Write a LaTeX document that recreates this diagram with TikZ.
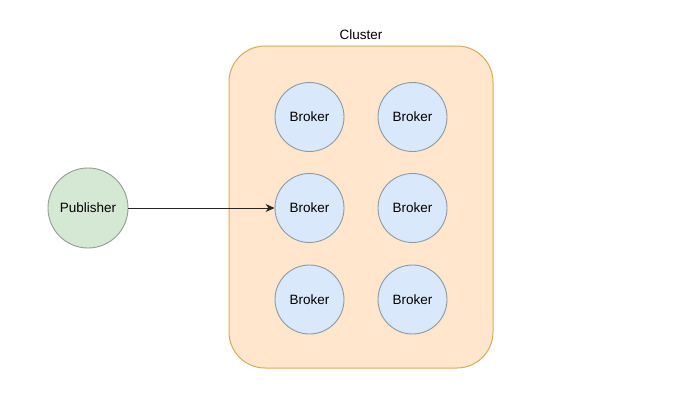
\documentclass[tikz,border=0pt]{standalone}
\usepackage{fontspec}
\setmainfont{Liberation Sans}
\usetikzlibrary{arrows.meta}
\definecolor{clfill}{HTML}{FFE6CC}
\definecolor{cldraw}{HTML}{D9AC55}
\definecolor{pubfill}{HTML}{D5E8D4}
\definecolor{pubdraw}{HTML}{949E94}
\definecolor{brfill}{HTML}{DAE8FC}
\definecolor{brdraw}{HTML}{8A9AA6}
\tikzset{
  cluster/.style={draw=cldraw, fill=clfill, line width=1pt, rounded corners=36pt},
  broker/.style={circle, draw=brdraw, fill=brfill, line width=0.9pt, minimum size=69pt, inner sep=0pt, font=\fontsize{13.5}{16}\selectfont},
  publisher/.style={circle, draw=pubdraw, fill=pubfill, line width=0.9pt, minimum size=80pt, inner sep=0pt, font=\fontsize{13.5}{16}\selectfont},
  lbl/.style={font=\fontsize{13.5}{16}\selectfont, inner sep=0pt},
  conn/.style={-{Stealth[length=9pt,width=8pt]}, line width=0.9pt, draw=black!85}
}
\begin{document}
\begin{tikzpicture}[x=1pt,y=-1pt]
\useasboundingbox (0,0) rectangle (686,407);
\fill[white] (0,0) rectangle (686,407);
\draw[cluster] (229,46) rectangle (493,368);
\node[lbl] (cl) at (361,35) {Cluster};
\node[publisher] (pub) at (88,208) {Publisher};
\node[broker] (b11) at (309.5,117) {Broker};
\node[broker] (b12) at (412.5,117) {Broker};
\node[broker] (b21) at (309.5,208) {Broker};
\node[broker] (b22) at (412.5,208) {Broker};
\node[broker] (b31) at (309.5,299.5) {Broker};
\node[broker] (b32) at (412.5,299.5) {Broker};
\draw[conn] (pub) -- (b21);
\end{tikzpicture}
\end{document}
